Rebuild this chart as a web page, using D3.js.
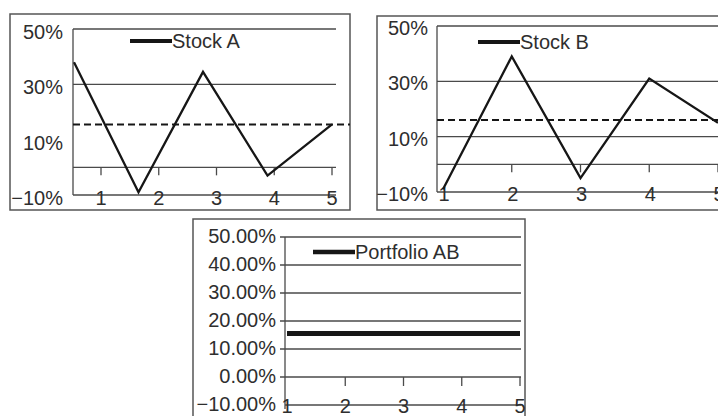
<!DOCTYPE html>
<html>
<head>
<meta charset="utf-8">
<script src="https://cdn.jsdelivr.net/npm/d3@7/dist/d3.min.js"></script>
<style>
  html, body { margin: 0; padding: 0; background: #fff; }
  svg { display: block; }
  text { font-family: "Liberation Sans", Arial, sans-serif; fill: #2e2e2e; }
</style>
</head>
<body>
<svg id="chart" width="718" height="416"></svg>
<script>
// Annual returns (%) for two stocks and the 50/50 portfolio built from them
const years = [1, 2, 3, 4, 5];
const stockA = [38, -9, 34.5, -3, 15.5];
const stockB = [-9, 39, -5, 31, 15];
const portfolioAB = [15.5, 15.5, 15.5, 15.5, 15.5];
const meanA = 15.5;
const meanB = 16;

// Axis labels and gridline levels
const stockTickValues = [50, 30, 10, -10];
const gridLevelsA = [50, 30, 0];
const gridLevelsB = [50, 30, 10, 0];
const portfolioTickValues = [50, 40, 30, 20, 10, 0, -10];
const portfolioGridLevels = [50, 40, 30, 20, 10, 0];

const seriesNames = ["Stock A", "Stock B", "Portfolio AB"];

const svg = d3.select("#chart");
svg.append("rect").attr("width", 718).attr("height", 416).attr("fill", "#fff");

const GRID = "#4a4a4a";
const INK = "#161616";
const FONT = 20;

const fmtStock = v => (v < 0 ? "\u2212" + Math.abs(v) : v) + "%";
const fmtPortfolio = v => (v < 0 ? "\u2212" + Math.abs(v).toFixed(2) : v.toFixed(2)) + "%";

function hline(g, x1, x2, y, opts = {}) {
  return g.append("line")
    .attr("x1", x1).attr("x2", x2).attr("y1", y).attr("y2", y)
    .attr("stroke", opts.color || GRID)
    .attr("stroke-width", opts.width || 1.3)
    .attr("stroke-dasharray", opts.dash || null);
}

function legend(g, x, y, name, lw) {
  g.append("line")
    .attr("x1", x).attr("x2", x + 42).attr("y1", y).attr("y2", y)
    .attr("stroke", INK).attr("stroke-width", lw);
  g.append("text")
    .attr("x", x + 42).attr("y", y)
    .attr("dominant-baseline", "central")
    .attr("font-size", FONT)
    .text(name);
}

// ---------- Stock A ----------
(function () {
  const g = svg.append("g");
  g.append("rect").attr("x", 10).attr("y", 14).attr("width", 340).attr("height", 196)
    .attr("fill", "none").attr("stroke", "#555").attr("stroke-width", 1.5);

  const y = d3.scaleLinear().domain([-10, 50]).range([195, 29]);
  const xAxis = d3.scaleLinear().domain([1, 5]).range([101, 332]);
  const xLine = d3.scalePoint().domain(years).range([74, 332]);
  const left = 73, right = 336;

  gridLevelsA.forEach(v => hline(g, left, right, y(v)));
  hline(g, left, right, y(-10));
  g.append("line").attr("x1", left).attr("x2", left).attr("y1", y(50)).attr("y2", y(-10))
    .attr("stroke", GRID).attr("stroke-width", 1.3);

  // tick marks hanging from the zero line
  years.forEach(t => {
    g.append("line").attr("x1", xAxis(t)).attr("x2", xAxis(t))
      .attr("y1", y(0)).attr("y2", y(0) + 8)
      .attr("stroke", GRID).attr("stroke-width", 1.3);
  });

  stockTickValues.forEach(v => {
    g.append("text").attr("x", 63).attr("y", y(v) + 3)
      .attr("text-anchor", "end").attr("dominant-baseline", "central")
      .attr("font-size", FONT).text(fmtStock(v));
  });
  years.forEach(t => {
    g.append("text").attr("x", xAxis(t)).attr("y", y(-10) + 3)
      .attr("text-anchor", "middle").attr("dominant-baseline", "central")
      .attr("font-size", FONT).text(t);
  });

  hline(g, left, 350, y(meanA), { color: INK, width: 2, dash: "7,4" });

  g.append("path").datum(stockA)
    .attr("d", d3.line().x((d, i) => xLine(years[i])).y(d => y(d)))
    .attr("fill", "none").attr("stroke", INK).attr("stroke-width", 2.3);

  legend(g, 130, 41, seriesNames[0], 4);
})();

// ---------- Stock B ----------
(function () {
  const g = svg.append("g");
  g.append("rect").attr("x", 377).attr("y", 16).attr("width", 380).attr("height", 194)
    .attr("fill", "none").attr("stroke", "#555").attr("stroke-width", 1.5);

  const y = d3.scaleLinear().domain([-10, 50]).range([192, 26]);
  const x = d3.scaleLinear().domain([1, 5]).range([443, 718]);
  const left = 437, right = 720;

  gridLevelsB.forEach(v => hline(g, left, right, y(v)));
  hline(g, left, right, y(-10));
  g.append("line").attr("x1", left).attr("x2", left).attr("y1", y(50)).attr("y2", y(-10))
    .attr("stroke", GRID).attr("stroke-width", 1.3);

  years.slice(1).forEach(t => {
    g.append("line").attr("x1", x(t)).attr("x2", x(t))
      .attr("y1", y(0)).attr("y2", y(0) + 8)
      .attr("stroke", GRID).attr("stroke-width", 1.3);
  });

  stockTickValues.forEach(v => {
    g.append("text").attr("x", 428).attr("y", y(v) + 2)
      .attr("text-anchor", "end").attr("dominant-baseline", "central")
      .attr("font-size", FONT).text(fmtStock(v));
  });
  years.forEach(t => {
    g.append("text").attr("x", x(t) + 1).attr("y", y(-10) + 2)
      .attr("text-anchor", "middle").attr("dominant-baseline", "central")
      .attr("font-size", FONT).text(t);
  });

  hline(g, left, right, y(meanB), { color: INK, width: 2, dash: "7,4" });

  g.append("path").datum(stockB)
    .attr("d", d3.line().x((d, i) => x(years[i])).y(d => y(d)))
    .attr("fill", "none").attr("stroke", INK).attr("stroke-width", 2.3);

  legend(g, 478, 42, seriesNames[1], 4);
})();

// ---------- Portfolio AB ----------
(function () {
  const g = svg.append("g");
  g.append("rect").attr("x", 193).attr("y", 219).attr("width", 332).attr("height", 210)
    .attr("fill", "none").attr("stroke", "#555").attr("stroke-width", 1.5);

  const y = d3.scaleLinear().domain([-10, 50]).range([405, 237]);
  const x = d3.scaleLinear().domain([1, 5]).range([287, 520]);
  const left = 285, right = 521;

  portfolioGridLevels.forEach(v => hline(g, left - 5, right, y(v)));
  hline(g, left, right, y(-10));
  g.append("line").attr("x1", left).attr("x2", left).attr("y1", y(50)).attr("y2", y(-10) + 4)
    .attr("stroke", GRID).attr("stroke-width", 1.3);

  years.slice(1).forEach(t => {
    g.append("line").attr("x1", x(t)).attr("x2", x(t))
      .attr("y1", y(0)).attr("y2", y(0) + 9)
      .attr("stroke", GRID).attr("stroke-width", 1.3);
  });

  portfolioTickValues.forEach(v => {
    g.append("text").attr("x", 276).attr("y", y(v) - 1)
      .attr("text-anchor", "end").attr("dominant-baseline", "central")
      .attr("font-size", FONT).text(fmtPortfolio(v));
  });
  years.forEach(t => {
    g.append("text").attr("x", x(t)).attr("y", y(-10) + 1)
      .attr("text-anchor", "middle").attr("dominant-baseline", "central")
      .attr("font-size", FONT).text(t);
  });

  g.append("path").datum(portfolioAB)
    .attr("d", d3.line().x((d, i) => x(years[i])).y(d => y(d)))
    .attr("fill", "none").attr("stroke", INK).attr("stroke-width", 5);

  legend(g, 313, 252, seriesNames[2], 4.5);
})();
</script>
</body>
</html>
